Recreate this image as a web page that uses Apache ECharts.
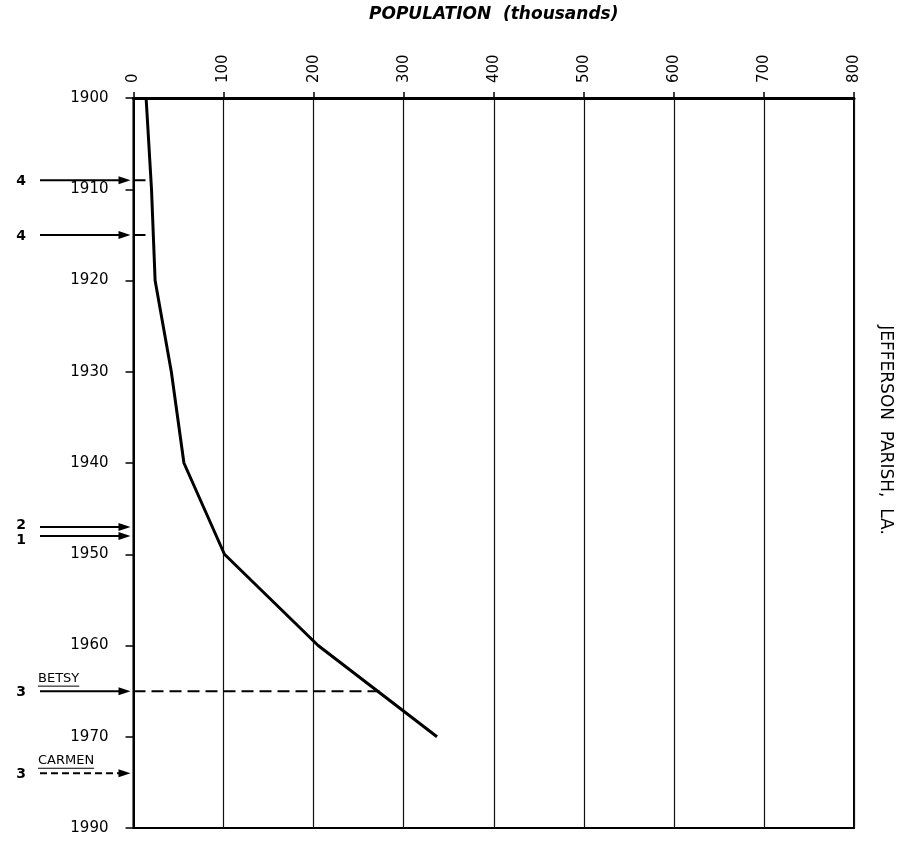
<!DOCTYPE html>
<html><head><meta charset="utf-8">
<script src="https://cdn.jsdelivr.net/npm/echarts@6/dist/echarts.min.js"></script>
<style>html,body{margin:0;padding:0;background:#fff}#c{width:905px;height:847px}</style>
</head><body><div id="c"></div>
<script>
// ---- data ----
const years = [1900, 1910, 1920, 1930, 1940, 1950, 1960, 1970];
const population = [14, 20, 24, 42, 56, 101, 205, 337]; // thousands
const popTicks = [0, 100, 200, 300, 400, 500, 600, 700, 800];
const yearTickLabels = ['1900', '1910', '1920', '1930', '1940', '1950', '1960', '1970', '1990'];
const hurricaneYears = [1909, 1915, 1947, 1948, 1965, 1974];
const hurricaneCategory = ['4', '4', '2', '1', '3', '3'];
const hurricaneNames = ['', '', '', '', 'BETSY', 'CARMEN'];
const hurricaneReach = [20, 20, 0, 0, 274, 0]; // population reached by dashed guide
const hurricaneDashedArrow = [false, false, false, false, false, true];
const xTitle = 'POPULATION  (thousands)';
const sideTitle = 'JEFFERSON  PARISH,  LA.';

const FONT = 'DejaVu Sans';
const chart = echarts.init(document.getElementById('c'), null, {renderer: 'canvas'});

const series = [{
  type: 'line',
  data: years.map((y, i) => [population[i], y]),
  symbol: 'none',
  lineStyle: {color: '#000', width: 3},
  z: 5
}];
hurricaneYears.forEach((y, i) => {
  if (hurricaneReach[i] > 0) {
    series.push({
      type: 'line',
      data: [[0, y], [hurricaneReach[i], y]],
      symbol: 'none',
      lineStyle: {color: '#000', width: 2, type: [12, 6]},
      z: 4
    });
  }
});

chart.setOption({
  animation: false,
  backgroundColor: '#fff',
  grid: {left: 133.5, right: 51, top: 98, bottom: 19, show: true, borderColor: '#000', borderWidth: 2,
    backgroundColor: 'transparent', outerBoundsMode: 'none', containLabel: false},
  xAxis: {
    type: 'value', position: 'top',
    min: popTicks[0], max: popTicks[popTicks.length - 1], interval: popTicks[1] - popTicks[0],
    name: xTitle, nameLocation: 'middle', nameGap: 83,
    nameTextStyle: {fontFamily: FONT, fontStyle: 'italic', fontWeight: 'bold', fontSize: 17, color: '#000',
      verticalAlign: 'middle'},
    axisLine: {show: true, lineStyle: {color: '#000', width: 3}},
    axisTick: {show: true, length: 6, lineStyle: {color: '#000', width: 1.5}},
    axisLabel: {rotate: -90, margin: 15, fontSize: 15, color: '#000', fontFamily: FONT},
    splitLine: {show: true, lineStyle: {color: '#111', width: 1.2}}
  },
  yAxis: {
    type: 'value', inverse: true, min: 1900, max: 1980, interval: 10,
    axisLine: {show: true, lineStyle: {color: '#000', width: 2}},
    axisTick: {show: true, length: 8, lineStyle: {color: '#000', width: 1.5}},
    axisLabel: {margin: 25, fontSize: 15, color: '#000', fontFamily: FONT,
      formatter: v => yearTickLabels[Math.round((v - 1900) / 10)] || ''},
    splitLine: {show: false}
  },
  series: series
});

// annotations positioned through the chart's own scales
const g = [];
hurricaneYears.forEach((y, i) => {
  const p = chart.convertToPixel({gridIndex: 0}, [0, y]);
  const ax = p[0], py = p[1];
  const x0 = 40, tip = ax - 3;
  g.push({type: 'line', shape: {x1: x0, y1: py, x2: tip - 8, y2: py},
    style: {stroke: '#000', lineWidth: 2, lineDash: hurricaneDashedArrow[i] ? [7, 4] : null}});
  g.push({type: 'polygon', shape: {points: [[tip, py], [tip - 12, py - 4], [tip - 12, py + 4]]},
    style: {fill: '#000'}});
  let ly = py;
  if (hurricaneCategory[i] === '2') ly = py - 3;
  if (hurricaneCategory[i] === '1') ly = py + 3;
  g.push({type: 'text', x: 21, y: ly + 1, style: {text: hurricaneCategory[i], font: 'bold 14px ' + FONT,
    fill: '#000', align: 'center', verticalAlign: 'middle'}});
  if (hurricaneNames[i]) {
    g.push({type: 'text', x: 38, y: py - 6, style: {text: hurricaneNames[i], font: '13px ' + FONT,
      fill: '#000', align: 'left', verticalAlign: 'bottom'}});
    const w = echarts.format.getTextRect
      ? echarts.format.getTextRect(hurricaneNames[i], '13px ' + FONT).width
      : hurricaneNames[i].length * 9;
    g.push({type: 'line', shape: {x1: 38, y1: py - 5, x2: 38 + w, y2: py - 5},
      style: {stroke: '#000', lineWidth: 1}});
  }
});
g.push({type: 'text', x: 885, y: 430, rotation: -Math.PI / 2,
  style: {text: sideTitle, font: '17px ' + FONT, fill: '#000', align: 'center', verticalAlign: 'middle'}});
chart.setOption({graphic: g});
</script></body></html>
